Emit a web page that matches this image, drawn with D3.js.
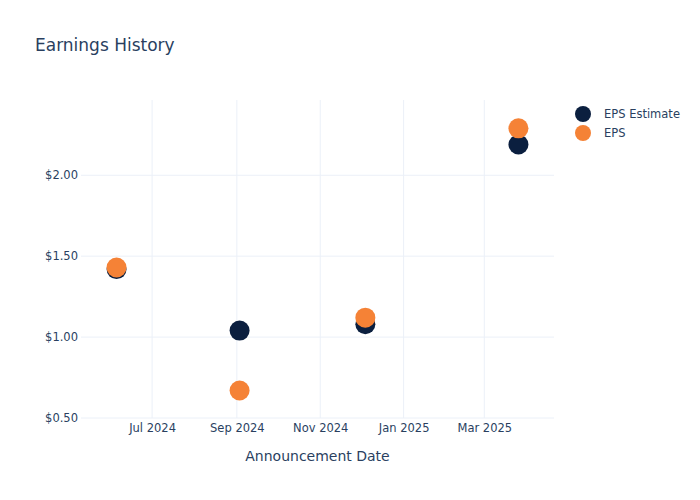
<!DOCTYPE html>
<html>
<head>
<meta charset="utf-8">
<script src="https://cdn.jsdelivr.net/npm/d3@7"></script>
<style>
  body { margin: 0; background: #fff; }
  text { font-family: "DejaVu Sans", verdana, sans-serif; fill: #2a3f5f; }
</style>
</head>
<body>
<div class="chart"></div>
<script>
// data
var dates = ["2024-06-05", "2024-09-03", "2024-12-04", "2025-03-26"];
var estimates = [1.42, 1.04, 1.08, 2.19];
var actuals = [1.43, 0.67, 1.12, 2.29];
var yTicks = [0.5, 1.0, 1.5, 2.0];
var xTicks = ["2024-07-01", "2024-09-01", "2024-11-01", "2025-01-01", "2025-03-01"];
var seriesNames = ["EPS Estimate", "EPS"];
var seriesColors = ["#0b1f3f", "#f58236"];

var parse = d3.timeParse("%Y-%m-%d");
var font = "\"DejaVu Sans\", verdana, sans-serif";

var margin = {left: 81, right: 146, top: 100, bottom: 82};
var width = 700, height = 500;

var svg = d3.select(".chart").append("svg")
    .attr("width", width)
    .attr("height", height);

var x = d3.scaleTime()
    .domain([parse("2024-05-10"), parse("2025-04-21")])
    .range([margin.left, width - margin.right]);

var y = d3.scaleLinear()
    .domain([0.5, 2.465])
    .range([height - margin.bottom, margin.top]);

// gridlines
svg.append("g")
    .selectAll("line")
    .data(xTicks)
    .enter().append("line")
    .attr("x1", function(d){ return x(parse(d)); })
    .attr("x2", function(d){ return x(parse(d)); })
    .attr("y1", margin.top)
    .attr("y2", height - margin.bottom)
    .style("stroke", "#ebf0f8")
    .style("stroke-width", 1);

svg.append("g")
    .selectAll("line")
    .data(yTicks)
    .enter().append("line")
    .attr("x1", margin.left)
    .attr("x2", width - margin.right)
    .attr("y1", function(d){ return y(d); })
    .attr("y2", function(d){ return y(d); })
    .style("stroke", "#ebf0f8")
    .style("stroke-width", 1);

// axes
var xAxis = svg.append("g")
    .attr("transform", "translate(0," + (height - margin.bottom) + ")")
    .call(d3.axisBottom(x)
        .tickValues(xTicks.map(parse))
        .tickFormat(d3.timeFormat("%b %Y"))
        .tickSize(0)
        .tickPadding(6));
xAxis.select(".domain").remove();
xAxis.selectAll("text")
    .attr("font-size", "11.5px")
    .style("font-family", font)
    .style("fill", "#2a3f5f");

var yAxis = svg.append("g")
    .attr("transform", "translate(" + margin.left + ",0)")
    .call(d3.axisLeft(y)
        .tickValues(yTicks)
        .tickFormat(function(d){ return "$" + d3.format(".2f")(d); })
        .tickSize(0)
        .tickPadding(3));
yAxis.select(".domain").remove();
yAxis.selectAll("text")
    .attr("font-size", "11.5px")
    .style("font-family", font)
    .style("fill", "#2a3f5f");

// points
[estimates, actuals].forEach(function(vals, i){
    svg.append("g")
        .selectAll("circle")
        .data(vals)
        .enter().append("circle")
        .attr("cx", function(d, j){ return x(parse(dates[j])); })
        .attr("cy", function(d){ return y(d); })
        .attr("r", 10)
        .style("fill", seriesColors[i]);
});

// title
svg.append("text")
    .attr("x", 35)
    .attr("y", 51)
    .attr("font-size", "17px")
    .text("Earnings History");

// axis title
svg.append("text")
    .attr("x", (margin.left + width - margin.right) / 2)
    .attr("y", 461)
    .attr("text-anchor", "middle")
    .attr("font-size", "14px")
    .text("Announcement Date");

// legend
var legend = svg.append("g");
seriesNames.forEach(function(name, i){
    legend.append("circle")
        .attr("cx", 583)
        .attr("cy", 114 + i * 19)
        .attr("r", 8)
        .style("fill", seriesColors[i]);
    legend.append("text")
        .attr("x", 604)
        .attr("y", 118 + i * 19)
        .attr("font-size", "11.5px")
        .text(name);
});
</script>
</body>
</html>
